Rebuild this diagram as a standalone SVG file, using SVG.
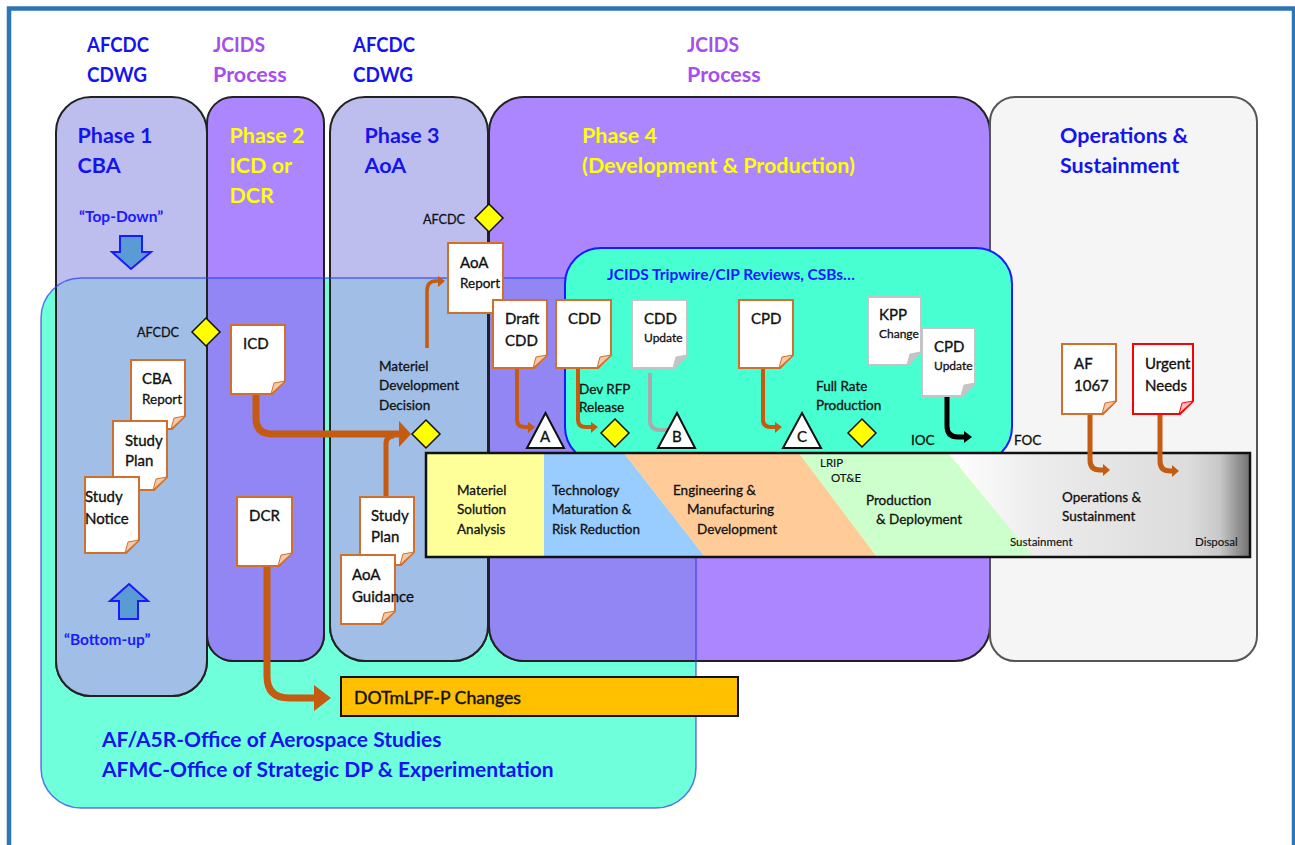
<svg xmlns="http://www.w3.org/2000/svg" xmlns:xlink="http://www.w3.org/1999/xlink" width="1295" height="845" viewBox="0 0 1295 845">
<style>
text{font-family:"Lato","Carlito","Open Sans",sans-serif;fill:#111;stroke:none}
.h{font-size:21.5px;font-weight:700}
.b{fill:#1414f0}.y{fill:#ffff00}.p{fill:#a64df0}
.t{font-size:15px;stroke:#111;stroke-width:.35}
.m{font-size:13.5px;stroke:#111;stroke-width:.3}
.s{font-size:11.5px;stroke:#111;stroke-width:.15}
.u{font-size:12px;stroke:#111;stroke-width:.3}
.q{font-size:15.500px;font-weight:700;fill:#1a1aff}
.d{font-size:21px;font-weight:700;fill:#1414f0}
.ph{stroke:#222;stroke-width:2}
.doc{fill:#fff;stroke-width:2}
.or .doc{stroke:#d0702c}.gr .doc{stroke:#c4c4c4}.rd .doc{stroke:#ff0000}
.or use{stroke:#d0702c;stroke-width:1}.gr use{stroke:#c4c4c4;stroke-width:1}.rd use{stroke:#ff0000;stroke-width:1}
.dia{fill:#ffff00;stroke:#111;stroke-width:1.5}
.tri{fill:#fff;stroke:#111;stroke-width:2}
.c{fill:none;stroke:#c55a11;stroke-linejoin:round}
.ah{fill:#c55a11}
</style>
<defs>
<clipPath id="tc"><rect x="41" y="278" width="655" height="530" rx="40"/></clipPath>
<linearGradient id="og" x1="948" y1="0" x2="1250" y2="0" gradientUnits="userSpaceOnUse">
<stop offset="0" stop-color="#ffffff"/><stop offset="0.3" stop-color="#ececec"/><stop offset="0.8" stop-color="#dcdcdc"/><stop offset="0.9" stop-color="#c8c8c8"/><stop offset="1" stop-color="#707070"/>
</linearGradient>
<path id="fold" d="M-14 0 L-11 -11 L0 -13 Z"/>
</defs>
<rect width="1295" height="845" fill="#fff"/>
<path d="M9 845V8.500H1294V845" fill="none" stroke="#2e75b6" stroke-width="4.500"/>

<g id="headers">
<text class="h b" x="87" y="52" textLength="62" lengthAdjust="spacingAndGlyphs">AFCDC</text><text class="h b" x="87" y="82" textLength="60" lengthAdjust="spacingAndGlyphs">CDWG</text>
<text class="h p" x="213" y="52" textLength="52" lengthAdjust="spacingAndGlyphs">JCIDS</text><text class="h p" x="213" y="82">Process</text>
<text class="h b" x="353" y="52" textLength="62" lengthAdjust="spacingAndGlyphs">AFCDC</text><text class="h b" x="353" y="82" textLength="60" lengthAdjust="spacingAndGlyphs">CDWG</text>
<text class="h p" x="687" y="52" textLength="52" lengthAdjust="spacingAndGlyphs">JCIDS</text><text class="h p" x="687" y="82">Process</text>
</g>

<g id="office-panel"><rect x="41" y="278" width="655" height="530" rx="40" fill="#6fffdb"/></g>
<g id="phase-1"><rect class="ph" x="56" y="97" width="151" height="599" rx="35" fill="#bdbdee"/></g>
<g id="phase-2"><rect class="ph" x="207" y="97" width="117" height="564" rx="26" fill="#ab86ff"/></g>
<g id="phase-3"><rect class="ph" x="330" y="97" width="158" height="564" rx="35" fill="#bdbdee"/></g>
<g id="phase-4"><rect class="ph" x="489" y="97" width="501" height="564" rx="35" fill="#ab86ff"/></g>
<g id="operations"><rect x="990" y="97" width="267" height="564" rx="25" fill="#f5f5f5" stroke="#555" stroke-width="2"/></g>
<g id="overlap" clip-path="url(#tc)">
<rect class="ph" x="56" y="97" width="151" height="599" rx="35" fill="#a0bee6"/>
<rect class="ph" x="207" y="97" width="117" height="564" rx="26" fill="#9186f4"/>
<rect class="ph" x="330" y="97" width="158" height="564" rx="35" fill="#a0bee6"/>
<rect class="ph" x="489" y="97" width="501" height="564" rx="35" fill="#9186f4"/>
</g>
<rect x="41" y="278" width="655" height="530" rx="40" fill="none" stroke="#2a3cf0" stroke-width="1.500" stroke-opacity="0.7"/>

<g id="phase-labels">
<text class="h b" x="77.500" y="143">Phase 1</text><text class="h b" x="77.500" y="173">CBA</text>
<text class="h y" x="229.500" y="143">Phase 2</text><text class="h y" x="229.500" y="173">ICD or</text><text class="h y" x="229.500" y="203">DCR</text>
<text class="h b" x="364.500" y="143">Phase 3</text><text class="h b" x="364.500" y="173">AoA</text>
<text class="h y" x="582" y="143">Phase 4</text><text class="h y" x="582" y="173">(Development &amp; Production)</text>
<text class="h b" x="1060" y="143">Operations &amp;</text><text class="h b" x="1060" y="173">Sustainment</text>
<text class="q" x="79" y="222">“Top-Down”</text>
<text class="q" x="64" y="645">“Bottom-up”</text>
</g>
<g id="top-down-arrow"><path d="M120 236H142V252H151L131 269L112 252H120Z" fill="#5b9bd5" stroke="#1a1aff" stroke-width="2"/></g>
<g id="bottom-up-arrow"><path d="M129 584L148 601H138V619H119V601H110Z" fill="#5b9bd5" stroke="#1a1aff" stroke-width="2"/></g>

<g id="tripwire"><rect x="565" y="248" width="447" height="215" rx="36" fill="#48ffd2" stroke="#1a1aff" stroke-width="2"/>
<text class="q" x="607" y="280">JCIDS Tripwire/CIP Reviews, CSBs…</text></g>

<g id="lifecycle-bar">
<rect x="426" y="453" width="824" height="104" fill="#ffff99"/>
<path d="M544 453H624L705 557H544Z" fill="#99ccff"/>
<path d="M624 453H799L877 557H705Z" fill="#ffcc99"/>
<path d="M799 453H948L1034 557H877Z" fill="#ccffcc"/>
<path d="M948 453H1250V557H1034Z" fill="url(#og)"/>
<rect x="426" y="453" width="824" height="104" fill="none" stroke="#111" stroke-width="2.500"/>
<text class="m" x="457" y="495">Materiel</text><text class="m" x="457" y="514">Solution</text><text class="m" x="457" y="534">Analysis</text>
<text class="m" x="552" y="495">Technology</text><text class="m" x="552" y="514">Maturation &amp;</text><text class="m" x="552" y="534">Risk Reduction</text>
<text class="m" x="673" y="495">Engineering &amp;</text><text class="m" x="687" y="514">Manufacturing</text><text class="m" x="697" y="534">Development</text>
<text class="s" x="820" y="467">LRIP</text><text class="s" x="831" y="482">OT&amp;E</text>
<text class="m" x="866" y="505">Production</text><text class="m" x="876" y="524">&amp; Deployment</text>
<text class="m" x="1062" y="502">Operations &amp;</text><text class="m" x="1062" y="521">Sustainment</text>
<text class="s" x="1010" y="546">Sustainment</text><text class="s" x="1195" y="546">Disposal</text>
</g>

<g id="connectors">
<path class="c" stroke-width="7" d="M256 394V418Q256 434 272 434H400"/><path class="ah" d="M399 421L411 434L399 447Z"/>
<path class="c" stroke-width="5" d="M386 497V444Q386 436 394 436"/>
<path class="c" stroke-width="7" d="M267 566V676Q267 698 289 698H318"/><path class="ah" d="M314 685L331 698L314 711Z"/>
<path class="c" stroke-width="3.500" d="M427 348V291Q427 281 436 281H440"/><path class="ah" d="M438 276L445 281L438 287Z"/>
<path class="c" stroke-width="4" d="M517 368V420Q517 427 525 427H529"/><path class="ah" d="M528 422L535 427L528 433Z"/>
<path class="c" stroke-width="4" d="M578 368V420Q578 427 586 427H592"/><path class="ah" d="M591 422L598 427L591 433Z"/>
<path class="c" stroke-width="4" style="stroke:#aaa" d="M650 373V420Q650 430 660 430H668"/>
<path class="c" stroke-width="4" d="M763 368V420Q763 427 771 427H776"/><path class="ah" d="M775 422L782 427L775 433Z"/>
<path class="c" stroke-width="5" style="stroke:#000" d="M947 396V426Q947 437 958 437H965"/><path d="M964 431L972 437L964 443Z" fill="#000"/>
<path class="c" stroke-width="5" d="M1090 414V460Q1090 470 1100 470H1104"/><path class="ah" d="M1103 464L1110 470L1103 476Z"/>
<path class="c" stroke-width="5" d="M1160 414V461Q1160 471 1170 471H1173"/><path class="ah" d="M1172 465L1179 471L1172 477Z"/>
</g>

<g id="doc-cba" class="or"><path class="doc" d="M131 360H185V416L172 429H131Z"/><use xlink:href="#fold" href="#fold" x="185" y="429" fill="#f4c8a8"/><text class="t" x="142" y="384">CBA</text><text class="m" x="142" y="404">Report</text></g>
<g id="doc-study-plan-1" class="or"><path class="doc" d="M113 421H167V477L154 490H113Z"/><use xlink:href="#fold" href="#fold" x="167" y="490" fill="#f4c8a8"/><text class="t" x="125" y="446">Study</text><text class="t" x="125" y="466">Plan</text></g>
<g id="doc-study-notice" class="or"><path class="doc" d="M85 477H139V540L126 553H85Z"/><use xlink:href="#fold" href="#fold" x="139" y="553" fill="#f4c8a8"/><text class="t" x="85" y="502">Study</text><text class="t" x="85" y="524">Notice</text></g>
<g id="doc-icd" class="or"><path class="doc" d="M231 325H285V381L272 394H231Z"/><use xlink:href="#fold" href="#fold" x="285" y="394" fill="#f4c8a8"/><text class="t" x="243" y="349">ICD</text></g>
<g id="doc-dcr" class="or"><path class="doc" d="M237 497H292V553L279 566H237Z"/><use xlink:href="#fold" href="#fold" x="292" y="566" fill="#f4c8a8"/><text class="t" x="249" y="521">DCR</text></g>
<g id="doc-study-plan-2" class="or"><path class="doc" d="M360 497H414V552L401 565H360Z"/><use xlink:href="#fold" href="#fold" x="414" y="565" fill="#f4c8a8"/><text class="t" x="371" y="521">Study</text><text class="t" x="371" y="542">Plan</text></g>
<g id="doc-aoa-guidance" class="or"><path class="doc" d="M341 555H395V611L382 624H341Z"/><use xlink:href="#fold" href="#fold" x="395" y="624" fill="#f4c8a8"/><text class="t" x="352" y="580">AoA</text><text class="t" x="352" y="602">Guidance</text></g>
<g id="doc-aoa-report" class="or"><path class="doc" d="M448 243H503V313H448Z"/><text class="t" x="460" y="268">AoA</text><text class="m" x="460" y="288">Report</text></g>
<g id="doc-draft-cdd" class="or"><path class="doc" d="M493 300H547V355L534 368H493Z"/><use xlink:href="#fold" href="#fold" x="547" y="368" fill="#f4c8a8"/><text class="t" x="505" y="324">Draft</text><text class="t" x="505" y="346">CDD</text></g>
<g id="doc-cdd" class="or"><path class="doc" d="M556 300H611V355L598 368H556Z"/><use xlink:href="#fold" href="#fold" x="611" y="368" fill="#f4c8a8"/><text class="t" x="568" y="324">CDD</text></g>
<g id="doc-cdd-update" class="gr"><path class="doc" d="M632 300H687V355L674 368H632Z"/><use xlink:href="#fold" href="#fold" x="687" y="368" fill="#c4c4c4"/><text class="t" x="644" y="324">CDD</text><text class="u" x="644" y="342">Update</text></g>
<g id="doc-cpd" class="or"><path class="doc" d="M739 300H793V355L780 368H739Z"/><use xlink:href="#fold" href="#fold" x="793" y="368" fill="#f4c8a8"/><text class="t" x="751" y="324">CPD</text></g>
<g id="doc-kpp" class="gr"><path class="doc" d="M868 297H921V352L908 365H868Z"/><use xlink:href="#fold" href="#fold" x="921" y="365" fill="#c4c4c4"/><text class="t" x="879" y="320">KPP</text><text class="u" x="879" y="338">Change</text></g>
<g id="doc-cpd-update" class="gr"><path class="doc" d="M922 328H975V383L962 396H922Z"/><use xlink:href="#fold" href="#fold" x="975" y="396" fill="#c4c4c4"/><text class="t" x="934" y="352">CPD</text><text class="u" x="934" y="370">Update</text></g>
<g id="doc-af1067" class="or"><path class="doc" d="M1062 344H1116V401L1103 414H1062Z"/><use xlink:href="#fold" href="#fold" x="1116" y="414" fill="#f4c8a8"/><text class="t" x="1074" y="369">AF</text><text class="t" x="1074" y="391">1067</text></g>
<g id="doc-urgent" class="rd"><path class="doc" d="M1133 344H1193V401L1180 414H1133Z"/><use xlink:href="#fold" href="#fold" x="1193" y="414" fill="#ffc0c0"/><text class="t" x="1145" y="369">Urgent</text><text class="t" x="1145" y="391">Needs</text></g>

<g id="dpt-afcdc-1"><path class="dia" d="M206 318L220 332L206 346L192 332Z"/><text class="m" x="137" y="337" textLength="42" lengthAdjust="spacingAndGlyphs">AFCDC</text></g>
<g id="dpt-afcdc-2"><path class="dia" d="M489 204L503 218L489 232L475 218Z"/><text class="m" x="423" y="224" textLength="42" lengthAdjust="spacingAndGlyphs">AFCDC</text></g>
<g id="dpt-mdd"><path class="dia" d="M426 420L440 434L426 448L412 434Z"/><text class="m" x="379" y="371">Materiel</text><text class="m" x="379" y="390">Development</text><text class="m" x="379" y="410">Decision</text></g>
<g id="dpt-rfp"><path class="dia" d="M615 419L629 433L615 447L601 433Z"/><text class="m" x="579" y="394">Dev RFP</text><text class="m" x="579" y="412">Release</text></g>
<g id="dpt-frp"><path class="dia" d="M862 419L876 433L862 447L848 433Z"/><text class="m" x="816" y="391">Full Rate</text><text class="m" x="816" y="410">Production</text></g>
<g id="ms-a"><path class="tri" d="M545.500 413L564 448H527Z"/><text class="t" x="540" y="442">A</text></g>
<g id="ms-b"><path class="tri" d="M677 413L695 448H658Z"/><text class="t" x="672" y="442">B</text></g>
<g id="ms-c"><path class="tri" d="M802 413L821 448H783Z"/><text class="t" x="797" y="442">C</text></g>
<g id="ioc"><text class="m" x="911" y="445">IOC</text></g>
<g id="foc"><text class="m" x="1014" y="445">FOC</text></g>
<g id="dotmlpf"><rect x="341" y="677" width="397" height="39" fill="#ffc000" stroke="#111" stroke-width="2"/><text x="354" y="704" textLength="167" lengthAdjust="spacingAndGlyphs" style="font-size:18px;stroke:#111;stroke-width:.4">DOTmLPF-P Changes</text></g>
<g id="office-labels"><text class="d" x="102" y="747">AF/A5R-Office of Aerospace Studies</text><text class="d" x="102" y="777">AFMC-Office of Strategic DP &amp; Experimentation</text></g>
</svg>
